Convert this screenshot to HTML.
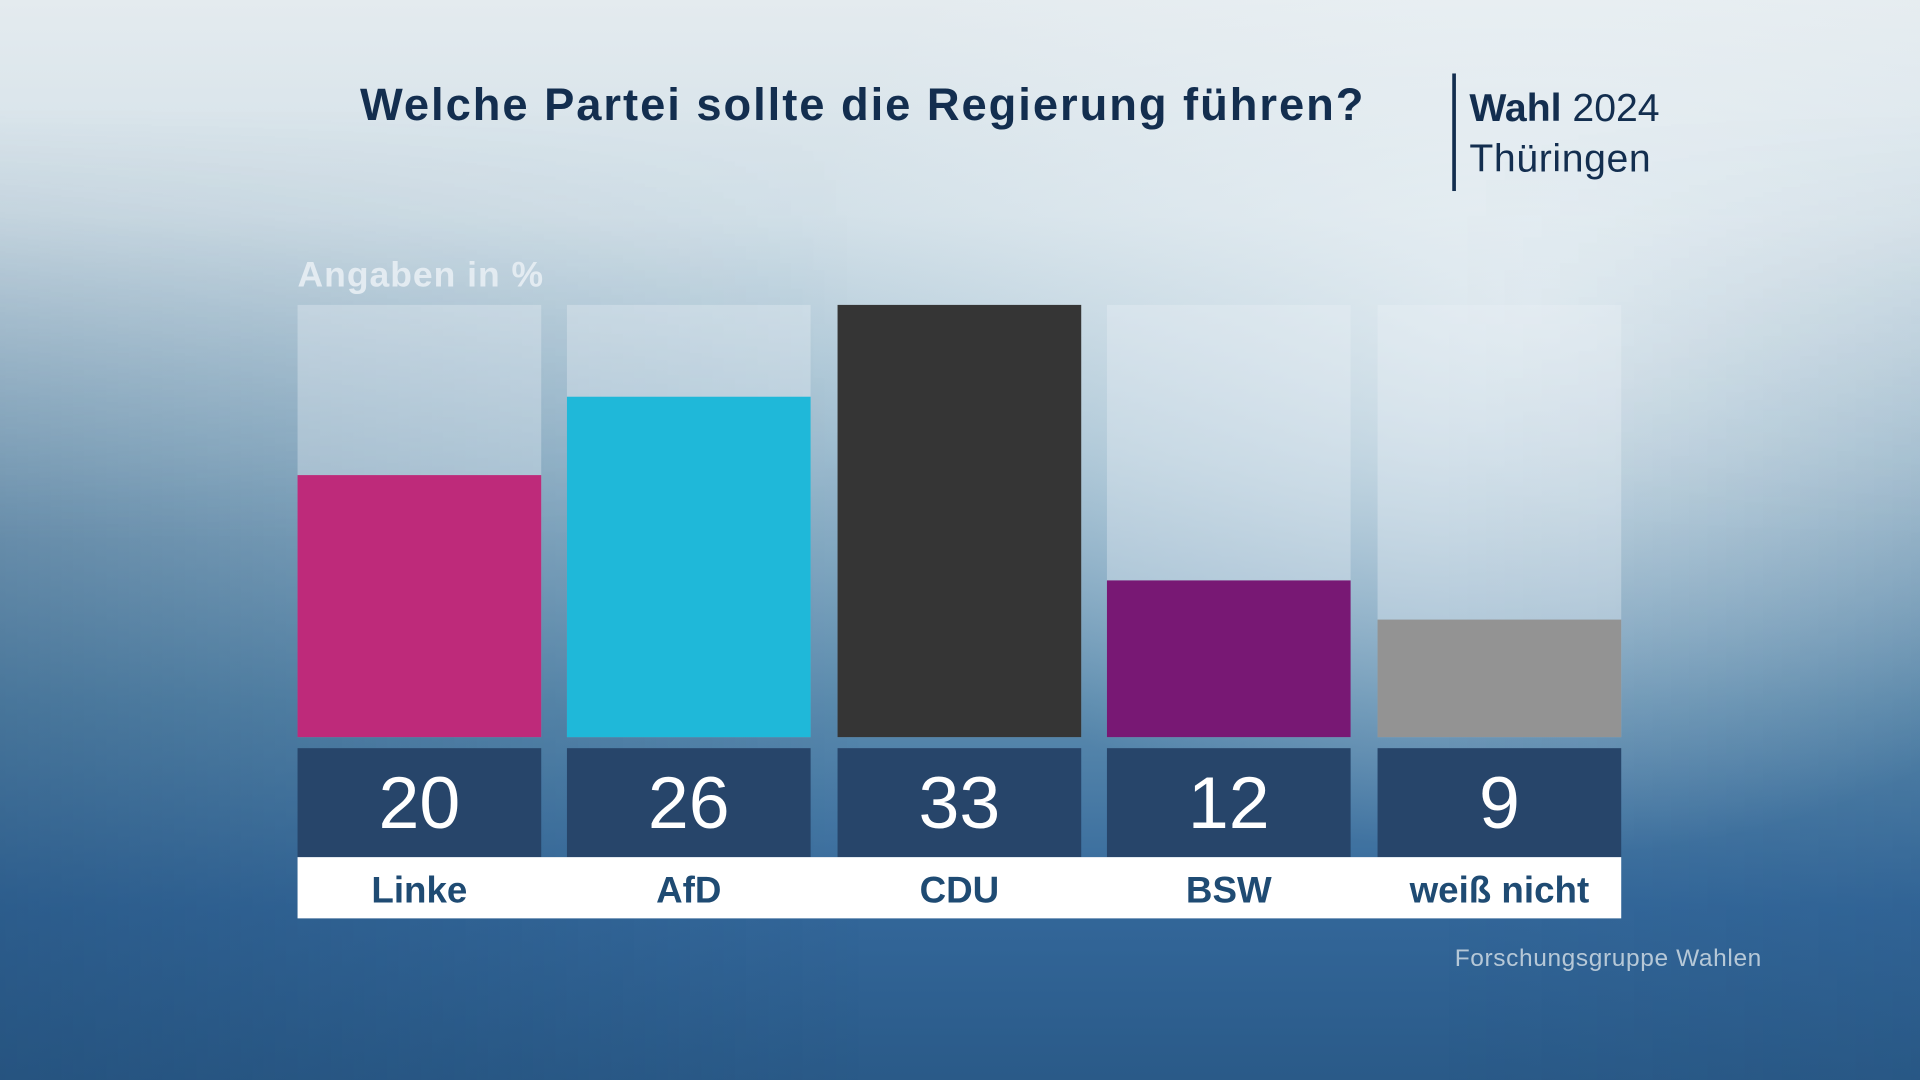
<!DOCTYPE html>
<html><head><meta charset="utf-8"><style>
html,body{margin:0;padding:0;width:1920px;height:1080px;overflow:hidden;}
#w{position:absolute;left:0;top:0;width:1568px;height:882px;transform:scale(1.2244898);transform-origin:0 0;
background:
radial-gradient(ellipse 600px 450px at 1250px 250px, rgba(240,245,248,0.7), rgba(240,245,248,0) 100%),
linear-gradient(180deg,#e4ebef 0%,#d2e0e8 20%,#9dbccf 42%,#5b8bae 65%,#33679a 84%,#2a5a88 100%);
font-family:"Liberation Sans",sans-serif;overflow:hidden;}
#shade{position:absolute;left:0;top:0;width:1568px;height:882px;background:linear-gradient(90deg,rgba(30,70,110,0.3) 0%,rgba(30,70,110,0) 45%,rgba(30,70,110,0) 75%,rgba(30,70,110,0.1) 100%);
-webkit-mask-image:linear-gradient(180deg,transparent 10%,#000 50%);mask-image:linear-gradient(180deg,transparent 10%,#000 50%);}
.t{position:absolute;white-space:nowrap;}
.col{position:absolute;top:249px;width:199px;height:353px;background:rgba(235,242,246,0.35);}
.bar{position:absolute;width:199px;}
.num{position:absolute;top:611px;width:199px;height:89px;background:#27456a;color:#fff;font-size:60px;text-align:center;line-height:89px;font-weight:300;}
.lab{position:absolute;top:700px;width:199px;height:50px;text-align:center;line-height:56px;color:#1f4b73;font-weight:bold;font-size:30px;}
</style></head><body><div id="w"><div id="shade"></div>
<div class="t" style="left:294px;top:65px;font-size:37px;font-weight:bold;color:#132e4f;letter-spacing:1.6px;">Welche Partei sollte die Regierung führen?</div>
<div style="position:absolute;left:1186px;top:60px;width:3px;height:96px;background:#132e4f;"></div>
<div class="t" style="left:1200px;top:70px;font-size:32px;color:#132e4f;"><b>Wahl</b> 2024</div>
<div class="t" style="left:1200px;top:111px;font-size:32px;color:#132e4f;letter-spacing:0.5px;">Thüringen</div>
<div class="t" style="left:243px;top:209px;font-size:29px;font-weight:bold;color:#e3ebf1;letter-spacing:0.8px;">Angaben in %</div>
<div class="col" style="left:243px"></div><div class="col" style="left:463px"></div><div class="col" style="left:684px"></div><div class="col" style="left:904px"></div><div class="col" style="left:1125px"></div>
<div class="bar" style="left:243px;top:388px;height:214px;background:#be2a7a"></div>
<div class="bar" style="left:463px;top:324px;height:278px;background:#1fb8d9"></div>
<div class="bar" style="left:684px;top:249px;height:353px;background:#353535"></div>
<div class="bar" style="left:904px;top:474px;height:128px;background:#781874"></div>
<div class="bar" style="left:1125px;top:506px;height:96px;background:#939393"></div>
<div class="num" style="left:243px">20</div><div class="num" style="left:463px">26</div><div class="num" style="left:684px">33</div><div class="num" style="left:904px">12</div><div class="num" style="left:1125px">9</div>
<div style="position:absolute;left:243px;top:700px;width:1081px;height:50px;background:#fff;"></div>
<div class="lab" style="left:243px">Linke</div><div class="lab" style="left:463px">AfD</div><div class="lab" style="left:684px">CDU</div><div class="lab" style="left:904px">BSW</div><div class="lab" style="left:1125px">weiß nicht</div>
<div class="t" style="left:1188px;top:772px;font-size:20px;color:#b6c8d7;letter-spacing:0.5px;">Forschungsgruppe Wahlen</div>
</div></body></html>
